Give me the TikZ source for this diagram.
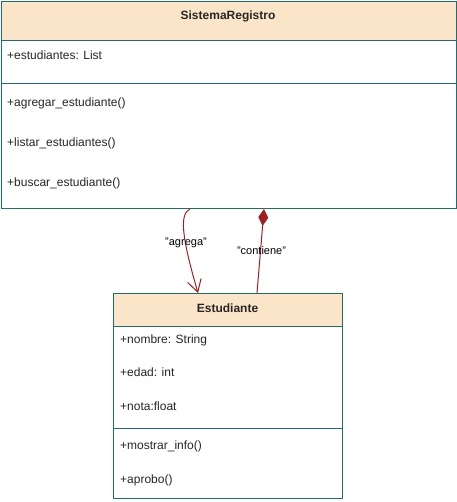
\documentclass[tikz,border=0pt]{standalone}
\usepackage{fontspec}
\setmainfont{Liberation Sans}
\usetikzlibrary{arrows.meta,calc}
\definecolor{hdr}{RGB}{250,229,200}
\definecolor{strk}{RGB}{26,112,112}
\definecolor{rel}{RGB}{163,30,30}
\begin{document}
\begin{tikzpicture}[x=1pt,y=-1pt,
  boxbody/.style={draw=strk, line width=1pt, fill=white, inner sep=0pt, anchor=north west},
  boxhead/.style={draw=strk, line width=1pt, fill=hdr, inner sep=0pt, anchor=north west},
  title/.style={font=\fontsize{12}{14}\selectfont\bfseries, text=black!85},
  member/.style={font=\fontsize{12}{14}\selectfont, anchor=west, inner sep=0pt, text=black!85},
  lbl/.style={font=\fontsize{11}{13}\selectfont, inner sep=0pt, text=black},
  divider/.style={draw=strk, line width=1pt},
  relline/.style={draw=rel, line width=1pt}]
\useasboundingbox (0,0) rectangle (456,502);

% SistemaRegistro
\node[boxbody, minimum width=455pt, minimum height=207pt] (sr) at (0.5,1) {};
\node[boxhead, minimum width=455pt, minimum height=39pt] (srh) at (0.5,1) {};
\node[title] (srt) at (228,16) {SistemaRegistro};
\draw[divider] (0.5,84) -- (455.5,84);
\node[member] (m1) at (7,55) {+estudiantes: List};
\node[member] (m2) at (7,103) {+agregar\_estudiante()};
\node[member] (m3) at (7,143) {+listar\_estudiantes()};
\node[member] (m4) at (7,183) {+buscar\_estudiante()};

% Estudiante
\node[boxbody, minimum width=229pt, minimum height=205pt] (es) at (113,293) {};
\node[boxhead, minimum width=229pt, minimum height=33pt] (esh) at (113,293) {};
\node[title] (est) at (227.5,308) {Estudiante};
\draw[divider] (113,428) -- (342,428);
\node[member] (e1) at (120,340) {+nombre: String};
\node[member] (e2) at (120,372) {+edad: int};
\node[member] (e3) at (120,406) {+nota:float};
\node[member] (e4) at (120,446) {+mostrar\_info()};
\node[member] (e5) at (120,480) {+aprobo()};

% connectors
\coordinate (a1) at ([xshift=189.5pt]sr.south west);
\coordinate (a2) at ([xshift=85pt]es.north west);
\draw[relline, -{Straight Barb[length=12pt,width=14pt,line width=1pt]}]
  (a1) .. controls (179,214) and (182,238) .. (a2);

\coordinate (c1) at ([xshift=263.5pt]sr.south west);
\coordinate (c2) at ([xshift=144pt]es.north west);
\draw[relline, {Diamond[length=17pt,width=10pt,fill=rel]}-] (c1) -- (c2);

\node[lbl] (la) at (186,243) {"agrega"};
\node[lbl] (lc) at (261.5,251) {"contiene"};
\end{tikzpicture}
\end{document}
